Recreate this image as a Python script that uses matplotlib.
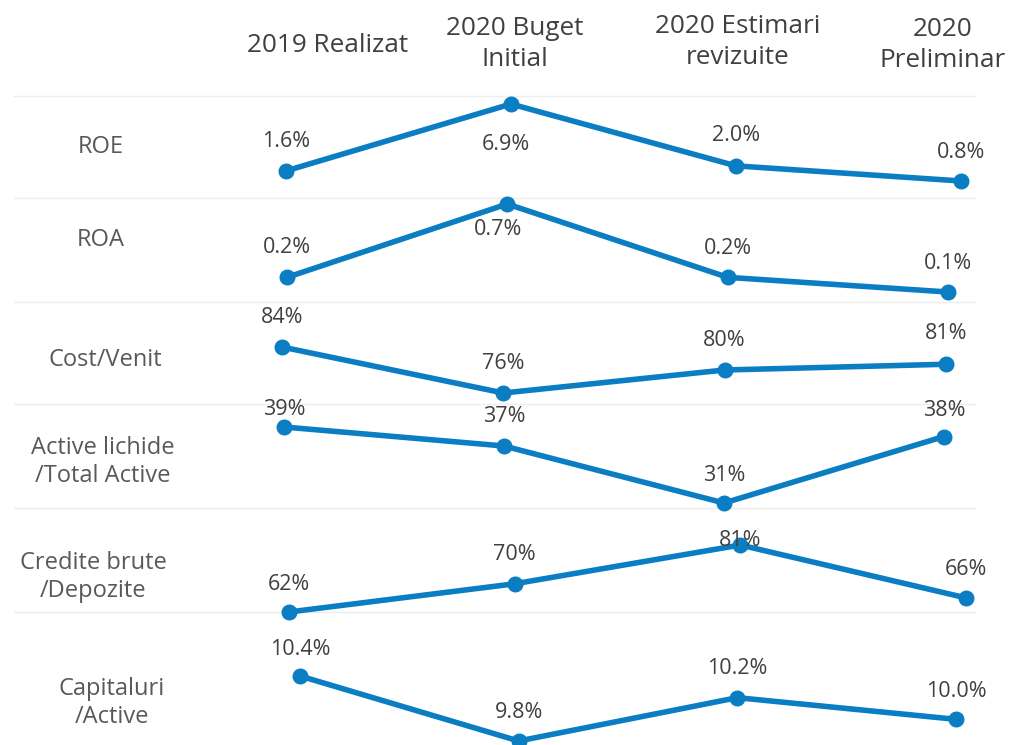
import matplotlib.pyplot as plt

plt.rcParams['font.family'] = ['Open Sans', 'DejaVu Sans']

# column headers and row names
categories = ["2019 Realizat", "2020 Buget\nInitial", "2020 Estimari\nrevizuite", "2020\nPreliminar"]
metrics = ["ROE", "ROA", "Cost/Venit", "Active lichide\n/Total Active",
           "Credite brute\n/Depozite", "Capitaluri\n/Active"]

# values (percent)
roe = [1.6, 6.9, 2.0, 0.8]
roa = [0.2, 0.7, 0.2, 0.1]
cost_venit = [84, 76, 80, 81]
active_lichide = [39, 37, 31, 38]
credite_depozite = [62, 70, 81, 66]
capitaluri = [10.4, 9.8, 10.2, 10.0]
decimals = [1, 1, 0, 0, 0, 1]

rows = [roe, roa, cost_venit, active_lichide, credite_depozite, capitaluri]

# layout in pixels (figure is 1018 x 745)
W, H = 1018, 745
x_span = [(286, 961), (287, 948), (282, 946), (284, 944), (289, 966), (300, 956)]
y_span = [(104, 181), (204, 292), (347, 393), (427, 503), (545, 612), (676, 741)]  # (max, min) px
label_dy = [[32, -38, 33, 31], [32, -23, 31, 31], [32, 32, 32, 33],
            [20, 32, 30, 29], [30, 32, 7, 31], [29, 31, 32, 30]]
label_dx = [[0, -5, 0, 0], [0, -9, 0, 0], [0, 0, 0, 0],
            [0, 0, 0, 0], [0, 0, 0, 0], [0, 0, 0, 0]]
row_label_pos = [(101, 147), (101, 240), (105, 360), (103, 462), (93, 577), (112, 703)]
header_pos = [(328, 45), (515, 44), (738, 42), (943, 45)]
separators = [96, 198, 302, 404, 508, 612]

blue = '#0B7DC3'
text_dark = '#404040'
text_row = '#595959'

fig = plt.figure(figsize=(W / 100, H / 100), dpi=100)

# background axes in pixel coords for separators
bg = fig.add_axes([0, 0, 1, 1])
bg.set_xlim(0, W)
bg.set_ylim(H, 0)
bg.axis('off')
for y in separators:
    bg.plot([14, 975], [y, y], color='#EDEDED', lw=1)

for i, vals in enumerate(rows):
    ax = fig.add_axes([0, 0, 1, 1])
    ax.patch.set_alpha(0)
    ax.axis('off')
    # x mapping: index 0 at x_span[0], index 3 at x_span[1]
    x0, x3 = x_span[i]
    dx = (x3 - x0) / (len(vals) - 1)
    ax.set_xlim(-x0 / dx, (W - x0) / dx)
    # y mapping: max at top px, min at bottom px
    top, bot = y_span[i]
    vmax, vmin = max(vals), min(vals)
    s = (bot - top) / (vmax - vmin)
    ax.set_ylim(vmin - (H - bot) / s, vmax + top / s)
    xs = list(range(len(vals)))
    ax.plot(xs, vals, color=blue, lw=4, marker='o', markersize=10.5,
            solid_capstyle='round', clip_on=False)
    for j, v in enumerate(vals):
        txt = f"{v:.{decimals[i]}f}%"
        ax.annotate(txt, (j, v), xytext=(label_dx[i][j], label_dy[i][j] - 8),
                    textcoords='offset pixels', ha='center', va='baseline',
                    fontsize=15.5, color=text_dark)

# row names
for name, (x, y) in zip(metrics, row_label_pos):
    fig.text(x / W, 1 - y / H, name, ha='center', va='center', multialignment='center',
             fontsize=17, color=text_row, linespacing=1.22)

# column headers
for name, (x, y) in zip(categories, header_pos):
    fig.text(x / W, 1 - y / H, name, ha='center', va='center', multialignment='center',
             fontsize=18.8, color=text_dark, linespacing=1.33)

plt.savefig('out.png', dpi=100)
